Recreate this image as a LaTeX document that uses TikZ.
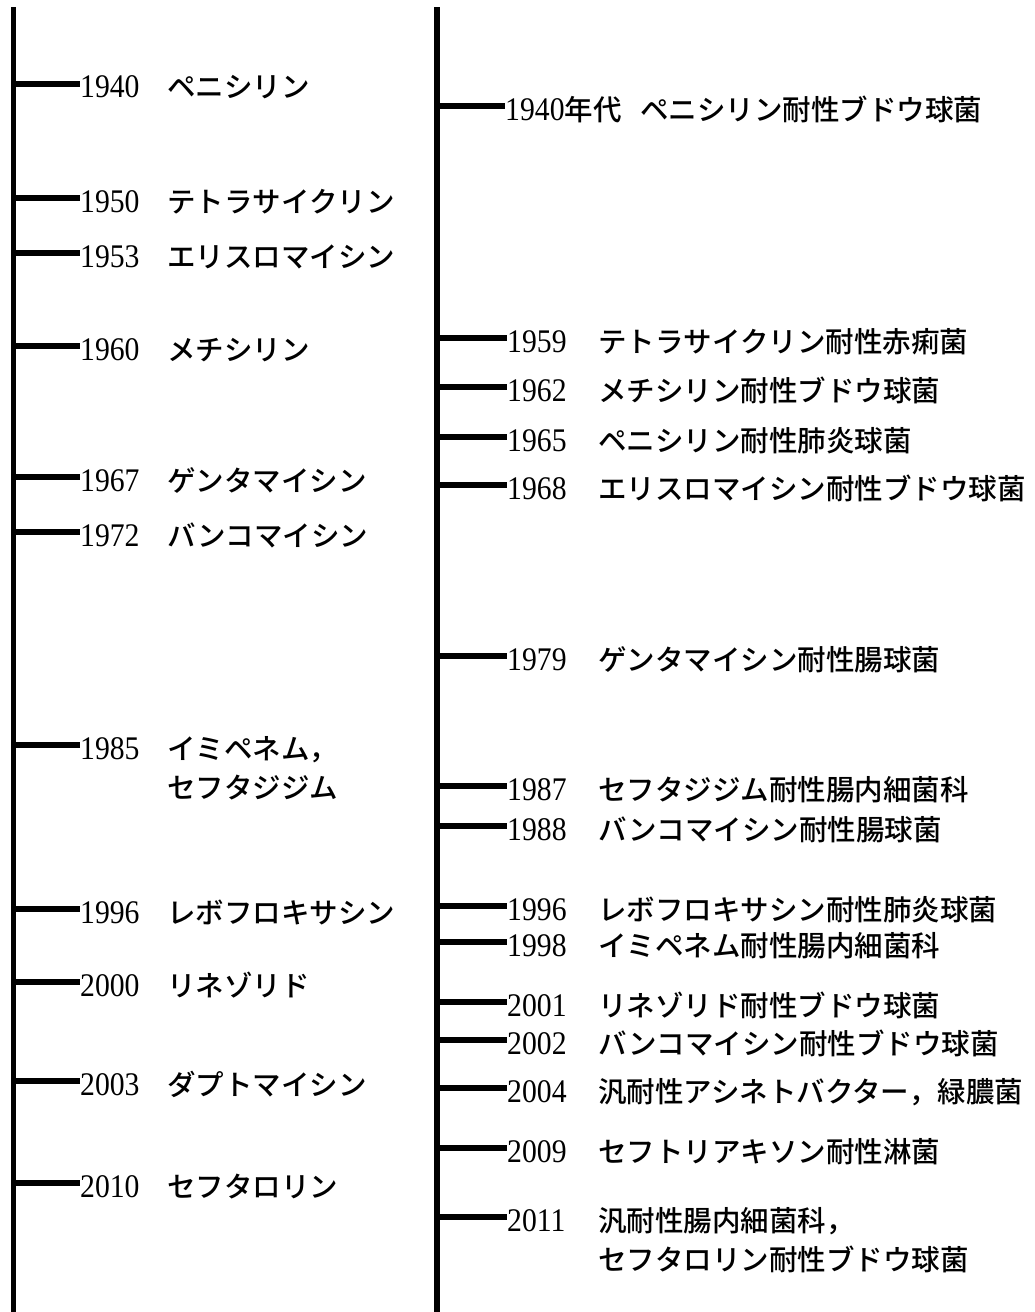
\documentclass[tikz,border=0pt]{standalone}
\usepackage{fontspec}
\setmainfont{Liberation Serif}
\newfontfamily\yrfont[FakeStretch=0.9]{Liberation Serif}
\newfontfamily\jp[UprightFont={* Medium}]{Noto Sans CJK JP}
\newcommand\tlitem[7]{%
  \node[yr] (#2) at (#3,#4) {#5};
  \draw[tickline] (#1 |- #2.west) -- (#2.west);
  \node[lab] (#2t) at (#6,#4+14) {#7};
}
\begin{document}
\begin{tikzpicture}[x=1pt,y=-1pt,
  axisline/.style={line width=5.5pt},
  tickline/.style={line width=6pt},
  yr/.style={anchor=west, inner sep=0pt, text height=28pt, text depth=0pt,
    font=\yrfont\fontsize{33}{38}\selectfont},
  lab/.style={anchor=base west, inner sep=0pt,
    font=\jp\fontsize{28.5}{39}\selectfont},
]
\useasboundingbox (0,0) rectangle (1035,1312);
% axes
\coordinate (LT) at (13.5,7);
\coordinate (LB) at (13.5,1312);
\coordinate (RT) at (437,7);
\coordinate (RB) at (437,1312);
\draw[axisline] (LT) -- (LB);
\draw[axisline] (RT) -- (RB);
% left column
\tlitem{LT}{l1}{80}{83.5}{1940}{167}{ペニシリン}
\tlitem{LT}{l2}{80}{198}{1950}{167}{テトラサイクリン}
\tlitem{LT}{l3}{80}{253}{1953}{167}{エリスロマイシン}
\tlitem{LT}{l4}{80}{346}{1960}{167}{メチシリン}
\tlitem{LT}{l5}{80}{477}{1967}{167}{ゲンタマイシン}
\tlitem{LT}{l6}{80}{532}{1972}{167}{バンコマイシン}
\tlitem{LT}{l7}{80}{745}{1985}{167}{\begin{tabular}[t]{@{}l@{}}イミペネム，\\セフタジジム\end{tabular}}
\tlitem{LT}{l8}{80}{909}{1996}{167}{レボフロキサシン}
\tlitem{LT}{l9}{80}{982}{2000}{167}{リネゾリド}
\tlitem{LT}{l10}{80}{1081}{2003}{167}{ダプトマイシン}
\tlitem{LT}{l11}{80}{1183}{2010}{167}{セフタロリン}
% right column
\tlitem{RT}{r1}{505}{106}{1940{\jp\fontsize{28.5}{39}\selectfont 年代}}{640}{ペニシリン耐性ブドウ球菌}
\tlitem{RT}{r2}{507}{338}{1959}{598}{テトラサイクリン耐性赤痢菌}
\tlitem{RT}{r3}{507}{387}{1962}{598}{メチシリン耐性ブドウ球菌}
\tlitem{RT}{r4}{507}{437}{1965}{598}{ペニシリン耐性肺炎球菌}
\tlitem{RT}{r5}{507}{485}{1968}{598}{エリスロマイシン耐性ブドウ球菌}
\tlitem{RT}{r6}{507}{656}{1979}{598}{ゲンタマイシン耐性腸球菌}
\tlitem{RT}{r7}{507}{786}{1987}{598}{セフタジジム耐性腸内細菌科}
\tlitem{RT}{r8}{507}{826}{1988}{598}{バンコマイシン耐性腸球菌}
\tlitem{RT}{r9}{507}{906}{1996}{598}{レボフロキサシン耐性肺炎球菌}
\tlitem{RT}{r10}{507}{942}{1998}{598}{イミペネム耐性腸内細菌科}
\tlitem{RT}{r11}{507}{1002}{2001}{598}{リネゾリド耐性ブドウ球菌}
\tlitem{RT}{r12}{507}{1040}{2002}{598}{バンコマイシン耐性ブドウ球菌}
\tlitem{RT}{r13}{507}{1088}{2004}{598}{汎耐性アシネトバクター，緑膿菌}
\tlitem{RT}{r14}{507}{1148}{2009}{598}{セフトリアキソン耐性淋菌}
\tlitem{RT}{r15}{507}{1217}{2011}{598}{\begin{tabular}[t]{@{}l@{}}汎耐性腸内細菌科，\\セフタロリン耐性ブドウ球菌\end{tabular}}
\end{tikzpicture}
\end{document}
